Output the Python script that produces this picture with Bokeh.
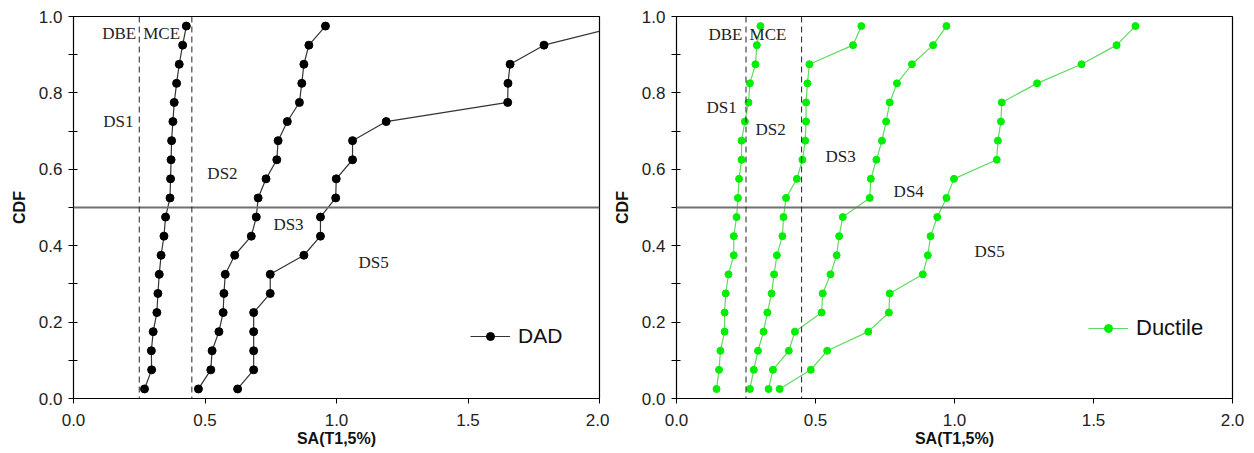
from bokeh.plotting import figure
from bokeh.layouts import row
from bokeh.models import Span, Label, FixedTicker, PrintfTickFormatter, Range1d
from bokeh.embed import file_html
from bokeh.resources import INLINE

# ---------------- data ----------------
cdf = [0.025, 0.075, 0.125, 0.175, 0.225, 0.275, 0.325, 0.375, 0.425, 0.475,
       0.525, 0.575, 0.625, 0.675, 0.725, 0.775, 0.825, 0.875, 0.925, 0.975]

dad_ds1 = [0.270, 0.297, 0.296, 0.303, 0.317, 0.321, 0.326, 0.333, 0.344, 0.350,
           0.367, 0.369, 0.371, 0.373, 0.378, 0.383, 0.392, 0.402, 0.415, 0.429]
dad_ds2 = [0.475, 0.522, 0.527, 0.553, 0.569, 0.572, 0.577, 0.613, 0.676, 0.695,
           0.702, 0.732, 0.773, 0.778, 0.813, 0.859, 0.868, 0.876, 0.895, 0.958]
dad_ds3 = [0.624, 0.685, 0.685, 0.685, 0.685, 0.748, 0.748, 0.876, 0.939, 0.939,
           0.997, 0.999, 1.061, 1.061, 1.189, 1.651, 1.652, 1.660, 1.789, 2.080]

duc_ds1 = [0.144, 0.153, 0.158, 0.173, 0.173, 0.177, 0.187, 0.206, 0.206, 0.216,
           0.221, 0.225, 0.234, 0.234, 0.246, 0.259, 0.264, 0.284, 0.289, 0.302]
duc_ds2 = [0.264, 0.278, 0.293, 0.313, 0.327, 0.342, 0.351, 0.361, 0.381, 0.385,
           0.394, 0.433, 0.453, 0.463, 0.466, 0.466, 0.471, 0.478, 0.635, 0.665]
duc_ds3 = [0.331, 0.347, 0.404, 0.426, 0.522, 0.526, 0.554, 0.576, 0.585, 0.598,
           0.695, 0.699, 0.719, 0.739, 0.754, 0.767, 0.793, 0.847, 0.923, 0.971]
duc_ds4 = [0.371, 0.483, 0.542, 0.690, 0.764, 0.767, 0.886, 0.904, 0.914, 0.938,
           0.971, 0.998, 1.152, 1.156, 1.167, 1.170, 1.297, 1.457, 1.583, 1.651]

hazard_levels = [0.25, 0.45]       # DBE, MCE
hazard_names = ["DBE", "MCE"]
median_level = 0.5

x_ticks = [0.0, 0.5, 1.0, 1.5, 2.0]
y_ticks = [0.0, 0.2, 0.4, 0.6, 0.8, 1.0]
y_minor = [0.1, 0.3, 0.5, 0.7, 0.9]

SANS = "Liberation Sans"
SERIF = "Liberation Serif"


def base_fig(width, bl, br):
    p = figure(width=width, height=453, output_backend="svg", toolbar_location=None,
               x_range=Range1d(0, 2), y_range=Range1d(0, 1),
               min_border_left=bl, min_border_right=br, min_border_top=16,
               min_border_bottom=55)
    p.grid.visible = False
    p.outline_line_color = "black"
    p.outline_line_width = 1.2
    p.background_fill_color = "white"
    p.border_fill_color = "white"
    for ax in (p.xaxis[0], p.yaxis[0]):
        ax.axis_line_color = "black"
        ax.major_tick_line_color = "black"
        ax.minor_tick_line_color = "black"
        ax.major_label_text_font = SANS
        ax.major_label_text_font_size = "17px"
        ax.major_label_text_color = "#222222"
        ax.axis_label_text_font = SANS
        ax.axis_label_text_font_style = "bold"
        ax.axis_label_text_font_size = "16px"
        ax.axis_label_text_color = "#111111"
        ax.formatter = PrintfTickFormatter(format="%.1f")
    xa, ya = p.xaxis[0], p.yaxis[0]
    xa.major_tick_in = 0
    xa.major_tick_out = 5
    ya.major_tick_in = 4
    ya.major_tick_out = 5
    ya.minor_tick_in = 4
    ya.minor_tick_out = 5
    xa.ticker = FixedTicker(ticks=x_ticks, minor_ticks=[])
    ya.ticker = FixedTicker(ticks=y_ticks, minor_ticks=y_minor)
    xa.axis_label = "SA(T1,5%)"
    ya.axis_label = "CDF"
    xa.major_label_standoff = 10
    xa.axis_label_standoff = 1
    ya.major_label_standoff = 6
    ya.axis_label_standoff = 8

    p.add_layout(Span(location=median_level, dimension="width",
                      line_color="#707070", line_width=2))
    for lv in hazard_levels:
        p.add_layout(Span(location=lv, dimension="height", line_color="#222222",
                          line_width=1, line_dash="6 4"))
    return p


def add_label(p, x, y, text):
    p.add_layout(Label(x=x, y=y, text=text, text_font=SERIF, text_font_size="17px",
                       text_color="#222222", text_align="left",
                       text_baseline="middle"))


# ---------------- left: DAD ----------------
p1 = base_fig(609, 73, 10)
for i, xs in enumerate([dad_ds1, dad_ds2, dad_ds3]):
    kw = dict(legend_label="DAD") if i == 0 else {}
    p1.line(xs, cdf, line_color="#333333", line_width=1.2, **kw)
    p1.scatter(xs, cdf, size=8, marker="circle", fill_color="black",
               line_color="black", **kw)

add_label(p1, 0.109, 0.955, hazard_names[0])
add_label(p1, 0.265, 0.955, hazard_names[1])
add_label(p1, 0.113, 0.725, "DS1")
add_label(p1, 0.509, 0.589, "DS2")
add_label(p1, 0.760, 0.456, "DS3")
add_label(p1, 1.084, 0.357, "DS5")

# ---------------- right: Ductile ----------------
p2 = base_fig(637, 67, 14)
green_line = "#5fdc5f"
green_dot = "#00ee00"
for i, xs in enumerate([duc_ds1, duc_ds2, duc_ds3, duc_ds4]):
    kw = dict(legend_label="Ductile") if i == 0 else {}
    p2.line(xs, cdf, line_color=green_line, line_width=1.2, **kw)
    p2.scatter(xs, cdf, size=7, marker="circle", fill_color=green_dot,
               line_color=green_dot, **kw)

add_label(p2, 0.115, 0.953, hazard_names[0])
add_label(p2, 0.263, 0.953, hazard_names[1])
add_label(p2, 0.108, 0.761, "DS1")
add_label(p2, 0.284, 0.703, "DS2")
add_label(p2, 0.536, 0.633, "DS3")
add_label(p2, 0.781, 0.541, "DS4")
add_label(p2, 1.072, 0.386, "DS5")

for p, loc, fs in ((p1, (397, 50), "21px"), (p2, (412, 57), "22px")):
    lg = p.legend[0]
    lg.location = loc
    lg.border_line_color = None
    lg.background_fill_alpha = 0
    lg.padding = 0
    lg.margin = 0
    lg.glyph_width = 40
    lg.glyph_height = 20
    lg.label_standoff = 8
    lg.label_text_font = SANS
    lg.label_text_font_size = fs
    lg.label_text_color = "#111111"

layout = row(p1, p2, spacing=0)
open("out.html", "w").write(file_html(layout, INLINE))
